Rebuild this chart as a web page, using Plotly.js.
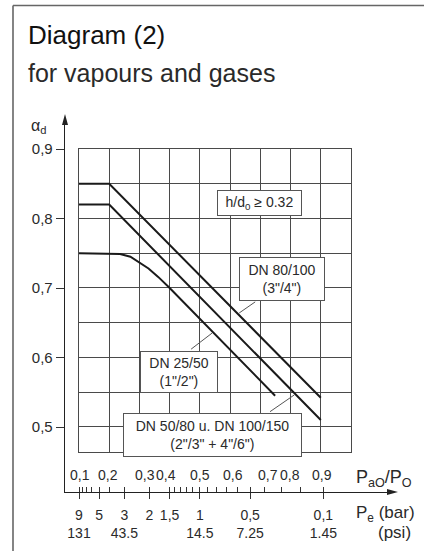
<!DOCTYPE html>
<html>
<head>
<meta charset="utf-8">
<script src="https://cdn.plot.ly/plotly-3.0.1.min.js"></script>
<style>html,body{margin:0;padding:0;background:#fff;}#chart{width:424px;height:551px;}</style>
</head>
<body>
<div id="chart"></div>
<script>
// ---- data ----
const dn80X = [0.1, 0.2, 0.9];
const dn80Y = [0.85, 0.85, 0.542];
const dn50X = [0.1, 0.2, 0.9];
const dn50Y = [0.82, 0.82, 0.510];
const dn25X = [0.1, 0.2, 0.236, 0.27, 0.3, 0.33, 0.362, 0.4, 0.749];
const dn25Y = [0.75, 0.75, 0.749, 0.745, 0.737, 0.728, 0.716, 0.70, 0.545];

const gridX = [0.2, 0.3, 0.4, 0.5, 0.6, 0.7, 0.8, 0.9];
const gridY = [0.5, 0.55, 0.6, 0.65, 0.7, 0.75, 0.8, 0.85];

const alphaTicks = [0.5, 0.6, 0.7, 0.8, 0.9];
const alphaLabels = ['0,5', '0,6', '0,7', '0,8', '0,9'];

const ratioTicks = [0.1, 0.2, 0.3, 0.4, 0.5, 0.6, 0.7, 0.8, 0.9];
const ratioLabels = ['0,1', '0,2', '0,3', '0,4', '0,5', '0,6', '0,7', '0,8', '0,9'];

const peMajor = [9, 5, 3, 2, 1.5, 1, 0.5, 0.1];
const peMajorLabels = ['9<br>131', '5', '3<br>43.5', '2', '1,5', '1<br>14.5', '0,5<br>7.25', '0,1<br>1.45'];
const peMinor = [8, 7, 6, 4, 1.4, 1.3, 1.2, 1.1, 0.9, 0.8, 0.7, 0.6, 0.4, 0.3, 0.2];

// ---- style ----
const W = 424, H = 551;
const FONT = 'Liberation Sans, Arial, sans-serif';
const TXT = '#2a2a2a';
const GRID = '#4a4a4a';
const px = v => v / W;
const py = v => 1 - v / H;
const ratioLabelShift = [1, -1, 6, -4, 0, 3, 8, -1, 1];

const toRatio = pe => 1 / (1 + pe);

const lineStyle = {color: '#1a1a1a', width: 2};
const traces = [
  {x: dn80X, y: dn80Y, mode: 'lines', line: lineStyle, xaxis: 'x', yaxis: 'y', hoverinfo: 'skip', name: 'DN 80/100'},
  {x: dn50X, y: dn50Y, mode: 'lines', line: lineStyle, xaxis: 'x', yaxis: 'y', hoverinfo: 'skip', name: 'DN 50/80 u. DN 100/150'},
  {x: dn25X, y: dn25Y, mode: 'lines', line: lineStyle, xaxis: 'x', yaxis: 'y', hoverinfo: 'skip', name: 'DN 25/50'},
  {x: [], y: [], xaxis: 'x2', yaxis: 'y2', mode: 'lines', hoverinfo: 'skip'},
  {x: [], y: [], xaxis: 'x3', yaxis: 'y2', mode: 'lines', hoverinfo: 'skip'}
];

const annotations = [];
// titles
annotations.push({text: 'Diagram (2)', xref: 'paper', yref: 'paper', x: px(26), y: py(35), xanchor: 'left', yanchor: 'middle', showarrow: false, font: {family: FONT, size: 26, color: '#111', weight: 500}});
annotations.push({text: 'for vapours and gases', xref: 'paper', yref: 'paper', x: px(26), y: py(73), xanchor: 'left', yanchor: 'middle', showarrow: false, font: {family: FONT, size: 25, color: TXT}});
// alpha_d
annotations.push({text: 'α<sub>d</sub>', xref: 'paper', yref: 'paper', x: px(38), y: py(127), xanchor: 'center', yanchor: 'middle', showarrow: false, font: {family: FONT, size: 16, color: TXT}});
// ratio labels
ratioTicks.forEach((r, i) => {
  annotations.push({text: ratioLabels[i], xref: 'x', yref: 'paper', x: r, y: py(475), xshift: ratioLabelShift[i], xanchor: 'center', yanchor: 'middle', showarrow: false, font: {family: FONT, size: 14, color: TXT}});
});
// axis names right
annotations.push({text: 'P<sub>aO</sub>/P<sub>O</sub>', xref: 'paper', yref: 'paper', x: px(354), y: py(478), xanchor: 'left', yanchor: 'middle', showarrow: false, font: {family: FONT, size: 18, color: TXT}});
annotations.push({text: 'P<sub>e</sub> (bar)', xref: 'paper', yref: 'paper', x: px(354), y: py(514), xanchor: 'left', yanchor: 'middle', showarrow: false, font: {family: FONT, size: 17, color: TXT}});
annotations.push({text: '(psi)', xref: 'paper', yref: 'paper', x: px(413), y: py(532), xanchor: 'right', yanchor: 'middle', showarrow: false, font: {family: FONT, size: 17, color: TXT}});

// label boxes
const box = (text, cx, cy, w, h) => ({text: text, xref: 'x', yref: 'y', x: cx, y: cy, xanchor: 'center', yanchor: 'middle', width: w, height: h, align: 'center', valign: 'middle', showarrow: false, bgcolor: '#fff', bordercolor: '#555', borderwidth: 1, borderpad: 0, font: {family: FONT, size: 14, color: TXT}});
annotations.push(box('h/d<sub>0</sub> ≥ 0.32', 0.698, 0.822, 83, 24));
annotations.push(box('DN 80/100<br>(3"/4")', 0.772, 0.713, 84, 42));
annotations.push(box('DN 25/50<br>(1"/2")', 0.431, 0.579, 76, 40));
annotations.push(box('DN 50/80 u. DN 100/150<br>(2"/3" + 4"/6")', 0.542, 0.4885, 177, 42));

const tri = (pts) => 'M' + pts.map(p => px(p[0]) + ',' + py(p[1])).join('L') + 'Z';
const shapes = [
  // outer frame
  {type: 'line', xref: 'paper', yref: 'paper', x0: px(13), x1: 1, y0: py(5.5), y1: py(5.5), line: {color: '#666', width: 1.6}},
  {type: 'line', xref: 'paper', yref: 'paper', x0: px(13), x1: px(13), y0: py(5.5), y1: 0, line: {color: '#666', width: 1.6}},
  // axis arrowheads
  {type: 'path', xref: 'paper', yref: 'paper', path: tri([[65, 114], [62, 125], [68, 125]]), fillcolor: '#222', line: {width: 0}},
  {type: 'path', xref: 'paper', yref: 'paper', path: tri([[398, 492], [387, 489], [387, 495]]), fillcolor: '#222', line: {width: 0}},
  // leaders
  {type: 'line', xref: 'x', yref: 'y', x0: 0.683, y0: 0.680, x1: 0.630, y1: 0.664, line: {color: '#555', width: 1}},
  {type: 'line', xref: 'x', yref: 'y', x0: 0.471, y0: 0.612, x1: 0.540, y1: 0.635, line: {color: '#555', width: 1}},
  {type: 'line', xref: 'x', yref: 'y', x0: 0.732, y0: 0.522, x1: 0.812, y1: 0.546, line: {color: '#555', width: 1}}
];

const layout = {
  width: W, height: H,
  margin: {l: 0, r: 0, t: 0, b: 0},
  paper_bgcolor: '#fff', plot_bgcolor: 'rgba(0,0,0,0)',
  showlegend: false,
  font: {family: FONT, color: TXT},
  xaxis: {domain: [px(79), px(351)], range: [0.1, 1.0], tickvals: gridX, showticklabels: false, ticks: '',
          showgrid: true, gridcolor: GRID, gridwidth: 1, showline: true, mirror: true, linecolor: GRID, linewidth: 1,
          zeroline: false, fixedrange: true},
  yaxis: {domain: [py(452), py(149)], range: [0.464, 0.9], tickvals: gridY, showticklabels: false, ticks: '',
          showgrid: true, gridcolor: GRID, gridwidth: 1, showline: true, mirror: true, linecolor: GRID, linewidth: 1,
          zeroline: false, fixedrange: true},
  xaxis2: {domain: [px(65), px(388)], range: [0.1 - 14 / 302, 0.1 - 14 / 302 + 323 / 302], anchor: 'y2',
           tickvals: peMinor.concat(peMajor).map(toRatio), ticks: 'inside', ticklen: 5, tickcolor: '#333', tickwidth: 1,
           showticklabels: false, showgrid: false, zeroline: false, showline: true, linecolor: '#222', linewidth: 1.3, fixedrange: true},
  xaxis3: {overlaying: 'x2', anchor: 'y2', range: [0.1 - 14 / 302, 0.1 - 14 / 302 + 323 / 302],
           tickvals: peMajor.map(toRatio), ticktext: peMajorLabels, ticks: 'outside', ticklen: 6, tickcolor: '#333', tickwidth: 1,
           ticklabelstandoff: 4,
           tickfont: {family: FONT, size: 14, color: TXT}, showgrid: false, zeroline: false, showline: false, fixedrange: true},
  yaxis2: {domain: [py(492), py(124)], range: [0.5 - 65 / 695, 0.5 - 65 / 695 + 368 / 695], anchor: 'x2',
           tickvals: alphaTicks, ticktext: alphaLabels, ticks: 'outside', ticklen: 8, tickcolor: '#333', tickwidth: 1,
           tickfont: {family: FONT, size: 15, color: TXT}, showgrid: false, zeroline: false, showline: true, linecolor: '#222', linewidth: 1.3, fixedrange: true},
  annotations: annotations,
  shapes: shapes
};

Plotly.newPlot('chart', traces, layout, {staticPlot: true, displayModeBar: false});
</script>
</body>
</html>
